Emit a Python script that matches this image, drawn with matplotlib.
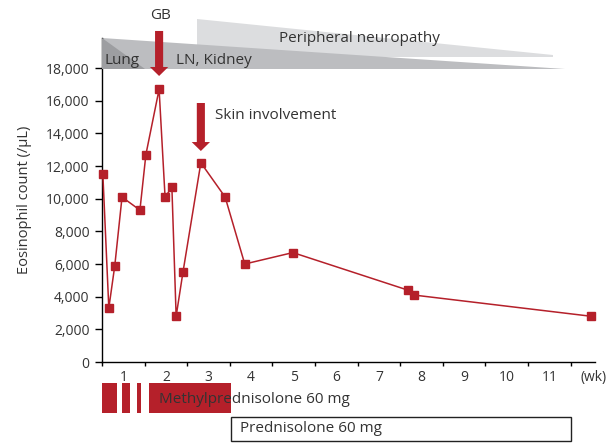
import matplotlib
matplotlib.use("Agg")
import matplotlib.pyplot as plt
from matplotlib.patches import Polygon, Rectangle

plt.rcParams['font.family'] = ['Open Sans', 'DejaVu Sans']

# Data (x in weeks, y eosinophil count /uL)
weeks = [0.02, 0.16, 0.30, 0.47, 0.89, 1.03, 1.34, 1.48, 1.64, 1.74, 1.90,
         2.32, 2.89, 3.35, 4.48, 7.18, 7.32, 11.48]
counts = [11500, 3300, 5900, 10100, 9300, 12700, 16700, 10100, 10700, 2800, 5500,
          12200, 10100, 6000, 6700, 4400, 4100, 2800]
yticks = [0, 2000, 4000, 6000, 8000, 10000, 12000, 14000, 16000, 18000]
week_labels = [str(i) for i in range(1, 12)]
methyl_segments = [(0.0, 0.35), (0.46, 0.66), (0.81, 0.92), (1.10, 3.02)]
pred_span = (3.03, 11.0)

RED = '#b5202a'
TXT = '#333333'

fig = plt.figure(figsize=(6.11, 4.43), dpi=100)
ax = fig.add_axes([102/611, (443-362)/443, (595-102)/611, (362-38)/443])
ax.set_xlim(0, 11.57)
ax.set_ylim(0, 19840)

# involvement wedges (drawn behind)
light = Polygon([(2.23, 21000), (2.23, 18700), (10.59, 18700), (10.59, 18800)],
                closed=True, facecolor='#dcdddf', edgecolor='none', clip_on=False, zorder=1)
ax.add_patch(light)
medium = Polygon([(0, 19840), (0, 17950), (10.87, 17950)],
                 closed=True, facecolor='#bcbdc0', edgecolor='none', clip_on=False, zorder=2)
ax.add_patch(medium)
dark = Polygon([(0, 19840), (0, 17950), (1.01, 17950)],
               closed=True, facecolor='#9d9ea1', edgecolor='none', clip_on=False, zorder=3)
ax.add_patch(dark)

ax.text(0.05, 18450, 'Lung', fontsize=11, color=TXT, va='center', ha='left', zorder=5)
ax.text(1.73, 18450, 'LN, Kidney', fontsize=11, color=TXT, va='center', ha='left', zorder=5)
ax.text(4.16, 19790, 'Peripheral neuropathy', fontsize=11, color=TXT, va='center', ha='left', zorder=5)

# data line
ax.plot(weeks, counts, color=RED, lw=1.1, marker='s', markersize=6,
        markerfacecolor=RED, markeredgecolor=RED, zorder=6, clip_on=False)


def down_arrow(xc, ytop, yhead, ytip, shaft=0.095, head=0.215):
    pts = [(xc - shaft, ytop), (xc + shaft, ytop), (xc + shaft, yhead),
           (xc + head, yhead), (xc, ytip), (xc - head, yhead), (xc - shaft, yhead)]
    ax.add_patch(Polygon(pts, closed=True, facecolor=RED, edgecolor='none',
                         clip_on=False, zorder=7))


# arrows
down_arrow(1.34, 20270, 18065, 17514)
ax.text(1.37, 21200, 'GB', fontsize=11, color=TXT, ha='center', va='center')
down_arrow(2.32, 15860, 13470, 12920)
ax.text(2.65, 15090, 'Skin involvement', fontsize=11, color=TXT, ha='left', va='center')

# axes styling
for s in ['top', 'right']:
    ax.spines[s].set_visible(False)
ax.spines['left'].set_linewidth(1.0)
ax.spines['bottom'].set_linewidth(1.0)
ax.set_yticks(yticks)
ax.set_yticklabels([f'{v:,}' for v in yticks], fontsize=10, color=TXT)
ax.tick_params(axis='y', direction='out', length=5, width=1, pad=4)
ax.set_xticks(range(0, 12))
ax.set_xticklabels([])
ax.tick_params(axis='x', direction='out', length=3, width=1)
for i, lab in enumerate(week_labels):
    ax.text(i + 0.5, -500, lab, fontsize=10, color=TXT, ha='center', va='top')
ax.text(11.22, -500, '(wk)', fontsize=10, color=TXT, ha='left', va='top', clip_on=False)
ax.set_ylabel('Eosinophil count (/μL)', fontsize=10.5, color=TXT, labelpad=10)

# treatment bars
for a, b in methyl_segments:
    ax.add_patch(Rectangle((a, -1300), b - a, -1850, transform=ax.transData,
                           facecolor=RED, edgecolor='none', clip_on=False))
ax.text(1.34, -2320, 'Methylprednisolone 60 mg', fontsize=11, color=TXT, ha='left', va='center')
ax.add_patch(Rectangle((pred_span[0], -3380), pred_span[1] - pred_span[0], -1450,
                       facecolor='white', edgecolor='#222222', lw=1.0, clip_on=False))
ax.text(pred_span[0] + 0.22, -4100, 'Prednisolone 60 mg', fontsize=11, color=TXT,
        ha='left', va='center')

fig.savefig('out.png', dpi=100)
